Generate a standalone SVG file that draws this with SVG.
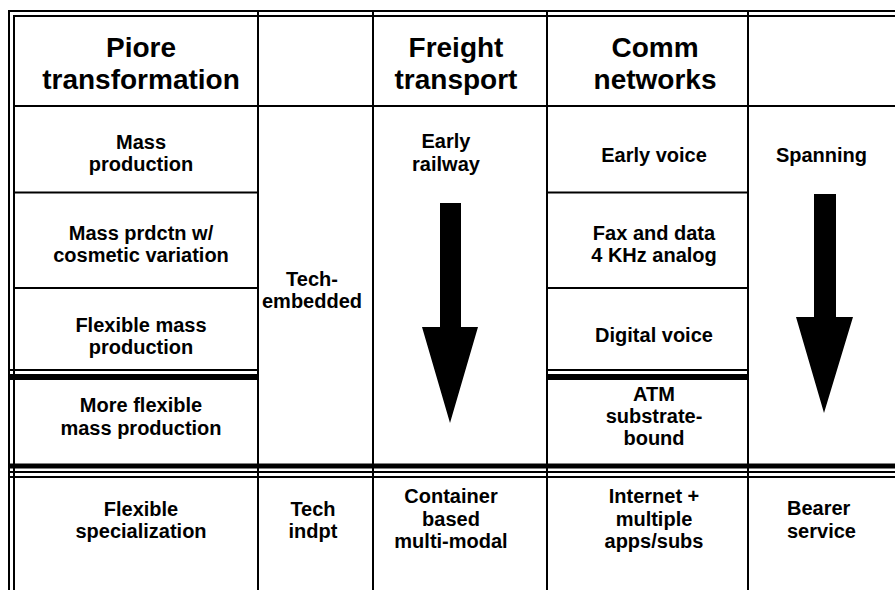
<svg xmlns="http://www.w3.org/2000/svg" width="895" height="590" viewBox="0 0 895 590">
  <style>
    .ln { stroke: #000; stroke-width: 2; fill: none; }
    .band { fill: #000; }
    .hd { font-family: "Liberation Sans", Arial, sans-serif; font-weight: bold; font-size: 28px; fill: #000; text-anchor: middle; }
    .tx { font-family: "Liberation Sans", Arial, sans-serif; font-weight: bold; font-size: 20px; fill: #000; text-anchor: middle; }
    .tl { text-anchor: start; }
    .arrow { fill: #000; }
  </style>
  <rect width="895" height="590" fill="#fff"/>

  <!-- table rules -->
  <g id="grid">
    <!-- double outer border (top and left) -->
    <path class="ln" d="M9 590 V11 H895"/>
    <path class="ln" d="M14 590 V16 H895"/>
    <!-- column rules -->
    <path class="ln" d="M258 11 V590 M373 11 V590 M547 11 V590 M748 11 V590"/>
    <!-- header rule -->
    <path class="ln" d="M14 106 H895"/>
    <!-- row rules in the stage columns -->
    <path class="ln" d="M14 192.5 H258 M547 192.5 H748 M14 288 H258 M547 288 H748"/>
    <!-- thin + thick divider before the last stage -->
    <path class="ln" d="M9 370 H258 M547 370 H748"/>
    <rect class="band" x="9" y="374" width="249" height="6"/>
    <rect class="band" x="547" y="374" width="201" height="6"/>
    <!-- triple divider above the bottom row -->
    <rect class="band" x="9" y="463.5" width="886" height="5"/>
    <path class="ln" d="M9 472 H895 M9 477 H895"/>
  </g>

  <!-- header row -->
  <g id="h-piore"><text class="hd" x="141" y="57">Piore</text><text class="hd" x="141" y="89">transformation</text></g>
  <g id="h-freight"><text class="hd" x="456" y="57">Freight</text><text class="hd" x="456" y="89">transport</text></g>
  <g id="h-comm"><text class="hd" x="655" y="57">Comm</text><text class="hd" x="655" y="89">networks</text></g>

  <!-- Piore column -->
  <g id="mass"><text class="tx" x="141" y="149">Mass</text><text class="tx" x="141" y="171">production</text></g>
  <g id="mass-cosmetic"><text class="tx" x="141" y="240">Mass prdctn w/</text><text class="tx" x="141" y="262">cosmetic variation</text></g>
  <g id="flex-mass"><text class="tx" x="141" y="332">Flexible mass</text><text class="tx" x="141" y="354">production</text></g>
  <g id="more-flex"><text class="tx" x="141" y="412">More flexible</text><text class="tx" x="141" y="435">mass production</text></g>
  <g id="flex-spec"><text class="tx" x="141" y="516">Flexible</text><text class="tx" x="141" y="538">specialization</text></g>

  <!-- technology column -->
  <g id="tech-embedded"><text class="tx" x="312" y="286">Tech-</text><text class="tx" x="312" y="308">embedded</text></g>
  <g id="tech-indpt"><text class="tx" x="313" y="516">Tech</text><text class="tx" x="313" y="538">indpt</text></g>

  <!-- freight column -->
  <g id="early-railway"><text class="tx" x="446" y="148">Early</text><text class="tx" x="446" y="171">railway</text></g>
  <g id="container"><text class="tx" x="451" y="503">Container</text><text class="tx" x="451" y="526">based</text><text class="tx" x="451" y="548">multi-modal</text></g>

  <!-- comm networks column -->
  <g id="early-voice"><text class="tx" x="654" y="162">Early voice</text></g>
  <g id="fax-data"><text class="tx" x="654" y="240">Fax and data</text><text class="tx" x="654" y="262">4 KHz analog</text></g>
  <g id="digital-voice"><text class="tx" x="654" y="342">Digital voice</text></g>
  <g id="atm"><text class="tx" x="654" y="401">ATM</text><text class="tx" x="654" y="423">substrate-</text><text class="tx" x="654" y="445">bound</text></g>
  <g id="internet"><text class="tx" x="654" y="503">Internet +</text><text class="tx" x="654" y="526">multiple</text><text class="tx" x="654" y="548">apps/subs</text></g>

  <!-- service column -->
  <g id="spanning"><text class="tx" x="821.5" y="162">Spanning</text></g>
  <g id="bearer"><text class="tx tl" x="787" y="515">Bearer</text><text class="tx tl" x="787" y="538">service</text></g>

  <!-- progression arrows -->
  <g id="connectors">
    <polygon class="arrow" points="440,203 461,203 461,327 478,327 450,423 422,327 440,327"/>
    <polygon class="arrow" points="814,194 836,194 836,317 853,317 824,413 796,317 814,317"/>
  </g>
</svg>
